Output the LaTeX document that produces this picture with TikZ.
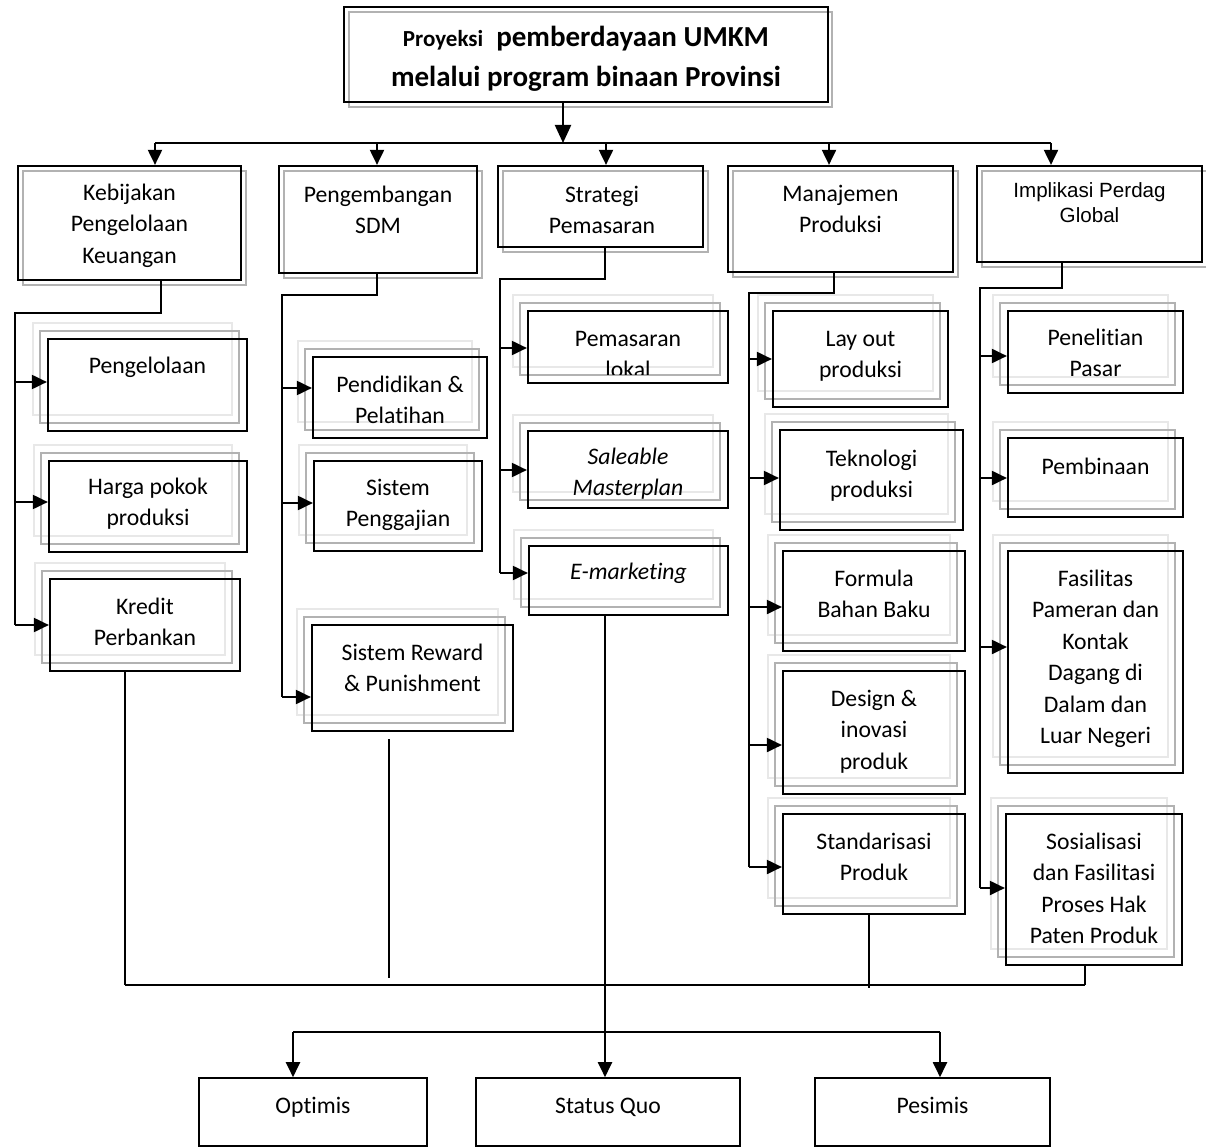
\documentclass[tikz,border=0pt]{standalone}
\usepackage{fontspec}
\setmainfont{Carlito}[Ligatures=NoCommon]
\newfontfamily\arialfont{Liberation Sans}
\usetikzlibrary{arrows.meta,fit}
\newcommand\bodyfs{\fontsize{23.7}{31.5}\selectfont}
\newcommand\mkhead[5]{%
  \draw[gshade] (#2+5,#3+5) rectangle (#4+5,#5+5);
  \node[blk,fit={(#2,#3) (#4,#5)}] (#1) {};}
\newcommand\mkchild[7]{%
  \draw[lshade] (#2-15,#3-16) rectangle (#4-15,#5-16);
  \draw[gshade] (#2-8,#3-8) rectangle (#4-8,#5-8);
  \node[blk,fit={(#2,#3) (#4,#5)}] (#1) {};
  \coordinate (#1a) at (0,#6);
  \draw[arr] (#7 |- #1a) -- (#1.west |- #1a);}
\newcommand\mktext[4]{\node[txt] (#1) at (#2,#3-22) {\strut #4};}
\begin{document}
\begin{tikzpicture}[x=1pt,y=-1pt,
 blk/.style={draw=black,line width=2.2pt,inner sep=0pt},
 gshade/.style={draw=gray!60,line width=1.6pt},
 lshade/.style={draw=gray!18,line width=1.5pt},
 ln/.style={line width=2pt},
 thinln/.style={line width=1.3pt},
 arr/.style={line width=2pt,-{Triangle[length=15pt,width=14pt]}},
 arrbig/.style={line width=2.2pt,-{Triangle[length=18pt,width=16pt]}},
 txt/.style={align=center,anchor=north,inner sep=0pt,font=\bodyfs}]
\useasboundingbox[fill=white] (0,0) rectangle (1206,1147);

% title
\draw[gshade] (349,12) rectangle (832,107);
\node[blk,fit={(344,7) (828,102)}] (title) {};
\node[txt,font=\bfseries\fontsize{29}{40}\selectfont] (ttl) at (586,18)
  {\strut{\fontsize{23}{40}\selectfont Proyeksi}\ \ pemberdayaan UMKM\\melalui program binaan Provinsi};

% headers
\mkhead{kb}{18}{166}{241}{280}
\mkhead{sd}{279}{166}{477}{273}
\mkhead{st}{498}{166}{703}{247}
\mkhead{mp}{728}{166}{953}{272}
\mkhead{ip}{977}{166}{1202}{262}
\mktext{tkb}{129.5}{200}{Kebijakan\\Pengelolaan\\Keuangan}
\mktext{tsd}{378}{202}{Pengembangan\\SDM}
\mktext{tst}{602}{202}{Strategi\\Pemasaran}
\mktext{tmp}{840.5}{201}{Manajemen\\Produksi}
\node[txt,font=\arialfont\fontsize{20.6}{25}\selectfont] (tip) at (1089.5,197-17.5) {\strut Implikasi Perdag\\Global};

% top bus
\coordinate (tb) at (563,143);
\draw[arrbig] (title.south -| tb) -- (tb);
\coordinate (b1) at (155,143);
\coordinate (b2) at (377,143);
\coordinate (b3) at (606,143);
\coordinate (b4) at (829,143);
\coordinate (b5) at (1051,143);
\draw[ln] (b1) -- (b5);
\draw[arr] (b1) -- (kb.north -| b1);
\draw[arr] (b2) -- (sd.north -| b2);
\draw[arr] (b3) -- (st.north -| b3);
\draw[arr] (b4) -- (mp.north -| b4);
\draw[arr] (b5) -- (ip.north -| b5);

% header buses
\coordinate (k1) at (161,313); \coordinate (k2) at (15,313); \coordinate (k3) at (15,625);
\draw[ln] (kb.south -| k1) -- (k1) -- (k2) -- (k3);
\coordinate (s1) at (377,295); \coordinate (s2) at (282,295); \coordinate (s3) at (282,697);
\draw[ln] (sd.south -| s1) -- (s1) -- (s2) -- (s3);
\coordinate (p1) at (605,279); \coordinate (p2) at (500,279); \coordinate (p3) at (500,573);
\draw[ln] (st.south -| p1) -- (p1) -- (p2) -- (p3);
\coordinate (m1) at (834,293); \coordinate (m2) at (749,293); \coordinate (m3) at (749,867);
\draw[ln] (mp.south -| m1) -- (m1) -- (m2) -- (m3);
\coordinate (g1) at (1062,288); \coordinate (g2) at (980,288); \coordinate (g3) at (980,888);
\draw[ln] (ip.south -| g1) -- (g1) -- (g2) -- (g3);

% column 1
\mkchild{c11}{48}{339}{247}{431}{382}{k2}
\mkchild{c12}{49}{461}{247}{552}{502}{k2}
\mkchild{c13}{50}{579}{240}{671}{625}{k2}
\mktext{t11}{147.5}{373}{Pengelolaan}
\mktext{t12}{148}{494}{Harga pokok\\produksi}
\mktext{t13}{145}{614}{Kredit\\Perbankan}

% column 2
\mkchild{c21}{313}{357}{487}{438}{388}{s2}
\mkchild{c22}{314}{461}{482}{551}{503}{s2}
\mkchild{c23}{312}{625}{513}{731}{697}{s2}
\mktext{t21}{400}{392}{Pendidikan \&\\Pelatihan}
\mktext{t22}{398}{495}{Sistem\\Penggajian}
\mktext{t23}{412.5}{660}{Sistem Reward\\\& Punishment}

% column 3
\mkchild{c31}{528}{311}{728}{383}{348}{p2}
\mkchild{c32}{528}{431}{728}{508}{470}{p2}
\mkchild{c33}{529}{546}{728}{615}{573}{p2}
\begin{scope}
\clip (515,320) rectangle (740,374);
\mktext{t31}{628}{346}{Pemasaran\\lokal}
\end{scope}
\begin{scope}
\clip (515,435) rectangle (740,498);
\mktext{t32}{628}{464}{\itshape Saleable\\\itshape Masterplan}
\end{scope}
\mktext{t33}{628.5}{579}{\itshape E-marketing}

% column 4
\mkchild{c41}{773}{311}{948}{407}{359}{m2}
\mkchild{c42}{780}{430}{963}{530}{478}{m2}
\mkchild{c43}{783}{551}{965}{651}{607}{m2}
\mkchild{c44}{783}{671}{965}{794}{745}{m2}
\mkchild{c45}{783}{814}{965}{914}{867}{m2}
\mktext{t41}{860.5}{346}{Lay out\\produksi}
\mktext{t42}{871.5}{466}{Teknologi\\produksi}
\mktext{t43}{874}{586}{Formula\\Bahan Baku}
\mktext{t44}{874}{706}{Design \&\\inovasi\\produk}
\mktext{t45}{874}{849}{Standarisasi\\Produk}

% column 5
\mkchild{c51}{1008}{311}{1183}{393}{356}{g2}
\mkchild{c52}{1008}{438}{1183}{517}{478}{g2}
\mkchild{c53}{1008}{551}{1183}{773}{647}{g2}
\mkchild{c54}{1006}{814}{1182}{965}{888}{g2}
\mktext{t51}{1095.5}{345}{Penelitian\\Pasar}
\mktext{t52}{1095.5}{474}{Pembinaan}
\mktext{t53}{1095.5}{586}{Fasilitas\\Pameran dan\\Kontak\\Dagang di\\Dalam dan\\Luar Negeri}
\mktext{t54}{1094}{849}{Sosialisasi\\dan Fasilitasi\\Proses Hak\\Paten Produk}

% bottom boxes
\node[blk,line width=1.6pt,fit={(199,1078) (427,1146)}] (op) {};
\node[blk,line width=1.6pt,fit={(476,1078) (740,1146)}] (sq) {};
\node[blk,line width=1.6pt,fit={(815,1078) (1050,1146)}] (ps) {};
\mktext{top}{313}{1113}{Optimis}
\mktext{tsq}{608}{1113}{Status Quo}
\mktext{tps}{932.5}{1113}{Pesimis}

% bottom connectors
\coordinate (r0) at (125,985); \coordinate (r1) at (1085,985);
\draw[ln] (r0) -- (r1);
\draw[thinln] (c13.south -| r0) -- (r0);
\coordinate (rw1) at (389,739); \coordinate (rw2) at (389,978);
\draw[thinln] (rw1) -- (rw2);
\coordinate (em) at (605,985);
\draw[thinln] (c33.south -| em) -- (em);
\coordinate (sx) at (869,988);
\draw[thinln] (c45.south -| sx) -- (sx);
\draw[thinln] (c54.south -| r1) -- (r1);
\coordinate (q1) at (293,1032); \coordinate (q2) at (940,1032);
\draw[ln] (q1) -- (q2);
\draw[arr] (em) -- (sq.north -| em);
\draw[arr] (q1) -- (op.north -| q1);
\draw[arr] (q2) -- (ps.north -| q2);
\end{tikzpicture}
\end{document}
